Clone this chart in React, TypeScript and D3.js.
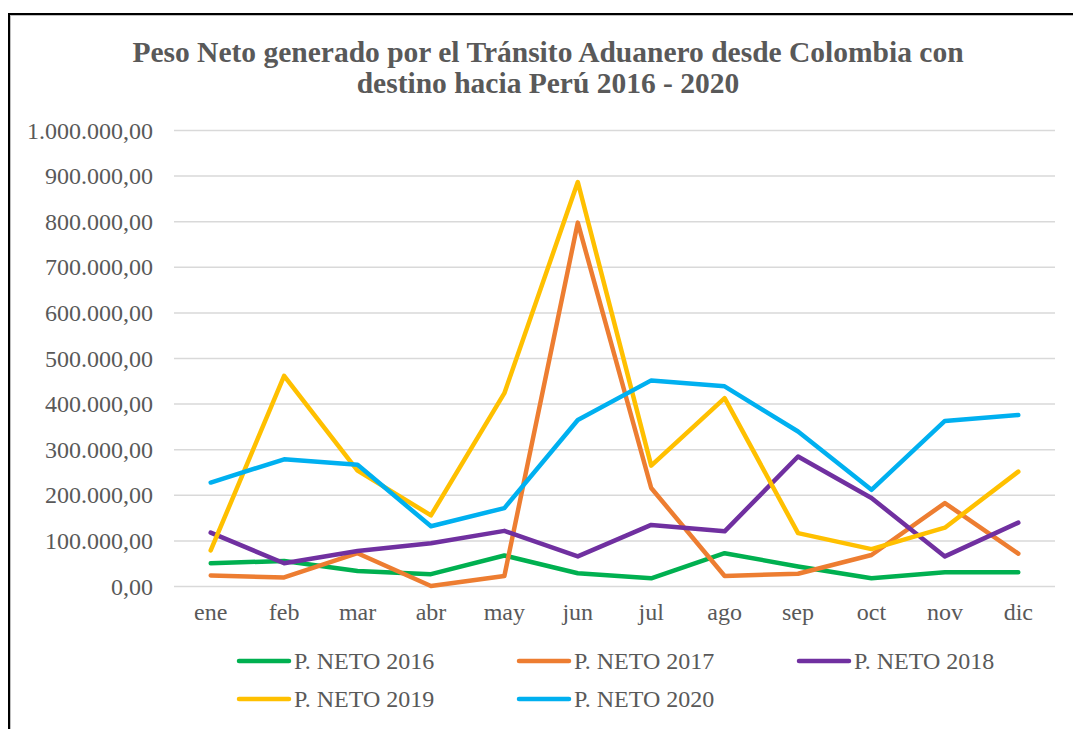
import React, { useEffect, useRef } from "react";
import * as d3 from "d3";

const months = ["ene", "feb", "mar", "abr", "may", "jun", "jul", "ago", "sep", "oct", "nov", "dic"];
const seriesNames = ["P. NETO 2016", "P. NETO 2017", "P. NETO 2018", "P. NETO 2019", "P. NETO 2020"];
const neto2016 = [51000, 56000, 34000, 27000, 68000, 29000, 18000, 73000, 44000, 18000, 31000, 31000];
const neto2017 = [24000, 20000, 73000, 1000, 23000, 798000, 216000, 23000, 28000, 69000, 183000, 72000];
const neto2018 = [118000, 51000, 78000, 95000, 122000, 66000, 135000, 121000, 285000, 194000, 66000, 140000];
const neto2019 = [79000, 462000, 254000, 156000, 424000, 887000, 265000, 413000, 117000, 82000, 129000, 252000];
const neto2020 = [228000, 279000, 267000, 132000, 172000, 365000, 452000, 439000, 340000, 212000, 363000, 376000];
const seriesColors = ["#00B050", "#ED7D31", "#7030A0", "#FFC000", "#00B0F0"];
const yTicks = [0, 100000, 200000, 300000, 400000, 500000, 600000, 700000, 800000, 900000, 1000000];
const titleLines = ["Peso Neto generado por el Tránsito Aduanero desde Colombia con", "destino hacia Perú 2016 - 2020"];

const W = 1073;
const H = 729;
const FONT = "'Liberation Serif', 'Times New Roman', serif";
const TXT = "#595959";
const FS = 24;

export default function App() {
  const ref = useRef<SVGSVGElement | null>(null);

  useEffect(() => {
    const svg = d3.select(ref.current);
    svg.selectAll("*").remove();

    // frame
    svg.append("rect").attr("x", 0).attr("y", 0).attr("width", W).attr("height", H).attr("fill", "#ffffff");
    svg.append("rect").attr("x", 9).attr("y", 14).attr("width", W + 20).attr("height", H + 20)
      .attr("fill", "none").attr("stroke", "#000").attr("stroke-width", 2);
    svg.append("rect").attr("x", 10.5).attr("y", 15.5).attr("width", W + 20).attr("height", H + 20)
      .attr("fill", "none").attr("stroke", "#bfbfbf").attr("stroke-width", 1);

    // title
    const title = svg.append("text").attr("text-anchor", "middle").attr("font-family", FONT)
      .attr("font-weight", "bold").attr("font-size", 29.5).attr("fill", TXT);
    titleLines.forEach((t, i) => {
      title.append("tspan").attr("x", 548).attr("y", 62 + i * 31).text(t);
    });

    const x = d3.scaleBand<string>().domain(months).range([174, 1055]);
    const y = d3.scaleLinear().domain([0, 1000000]).range([586.5, 130.5]);

    // grid
    svg.append("g").selectAll("line").data(yTicks).join("line")
      .attr("x1", 174).attr("x2", 1055)
      .attr("y1", (d) => y(d)).attr("y2", (d) => y(d))
      .attr("stroke", "#D9D9D9").attr("stroke-width", 1.5);

    const fmt = (v: number) => {
      const s = d3.format(",.2f")(v);
      return s.replace(/,/g, "#").replace(".", ",").replace(/#/g, ".");
    };

    svg.append("g").selectAll("text").data(yTicks).join("text")
      .attr("x", 153).attr("y", (d) => y(d) + 8)
      .attr("text-anchor", "end").attr("font-family", FONT).attr("font-size", FS).attr("fill", TXT)
      .text((d) => fmt(d));

    svg.append("g").selectAll("text").data(months).join("text")
      .attr("x", (d) => (x(d) as number) + x.bandwidth() / 2).attr("y", 620)
      .attr("text-anchor", "middle").attr("font-family", FONT).attr("font-size", FS).attr("fill", TXT)
      .text((d) => d);

    const all = [neto2016, neto2017, neto2018, neto2019, neto2020];
    const line = d3.line<number>()
      .x((_, i) => (x(months[i]) as number) + x.bandwidth() / 2)
      .y((d) => y(d));

    all.forEach((vals, k) => {
      svg.append("path").attr("d", line(vals) as string).attr("fill", "none")
        .attr("stroke", seriesColors[k]).attr("stroke-width", 4.5)
        .attr("stroke-linejoin", "round").attr("stroke-linecap", "round");
    });

    // legend
    const legendPos = [
      [237, 661], [517, 661], [797, 661], [237, 699], [517, 699],
    ];
    seriesNames.forEach((n, k) => {
      const [lx, ly] = legendPos[k];
      svg.append("line").attr("x1", lx + 2).attr("x2", lx + 52).attr("y1", ly).attr("y2", ly)
        .attr("stroke", seriesColors[k]).attr("stroke-width", 4.5).attr("stroke-linecap", "round");
      svg.append("text").attr("x", lx + 57).attr("y", ly + 8)
        .attr("font-family", FONT).attr("font-size", FS).attr("fill", TXT).text(n);
    });
  }, []);

  return (
    <svg ref={ref} width={W} height={H} style={{ position: "absolute", left: 0, top: 0, display: "block" }} />
  );
}
